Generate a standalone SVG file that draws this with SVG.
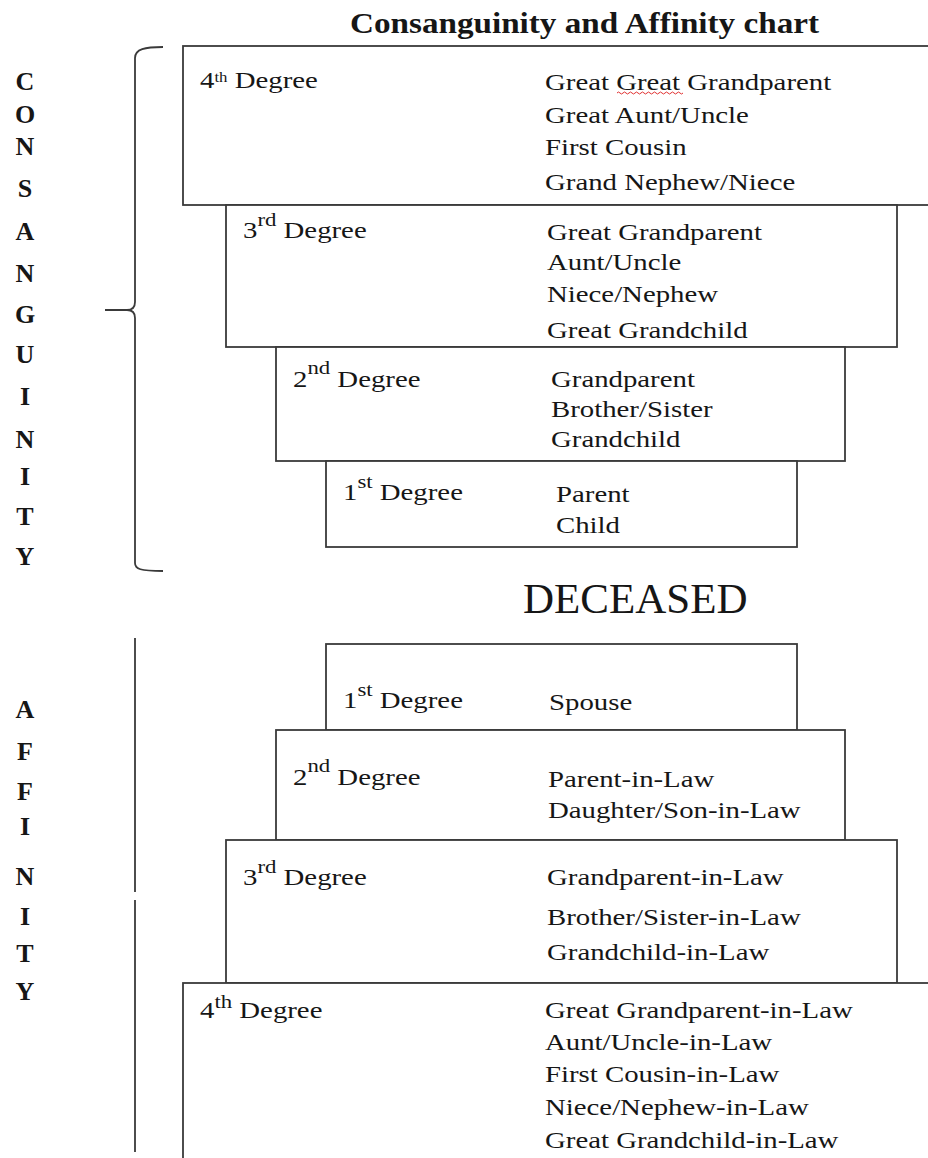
<svg xmlns="http://www.w3.org/2000/svg" width="928" height="1158" viewBox="0 0 928 1158">
<style>
.box{fill:#fff;stroke:#3a3a3a;stroke-width:1.8}
.t{font-family:"Liberation Serif","Times New Roman",serif;font-size:24px;fill:#161616}
.sup{font-size:19px}
.sup4{font-size:14px}
.side{font-family:"Liberation Serif","Times New Roman",serif;font-size:26px;font-weight:bold;fill:#161616;text-anchor:middle}
.title{font-family:"Liberation Serif","Times New Roman",serif;font-size:30px;font-weight:bold;fill:#161616}
.big{font-family:"Liberation Serif","Times New Roman",serif;font-size:43px;fill:#161616}
.br{fill:none;stroke:#3a3a3a;stroke-width:1.8}
</style>
<rect width="928" height="1158" fill="#fff"/>
<text class="title" x="350" y="33" textLength="469" lengthAdjust="spacingAndGlyphs">Consanguinity and Affinity chart</text>

<g id="connectors">
<path class="br" d="M163,47 C145,47 135,49 135,58 L135,302 C135,307 132,310 127,310 L105,310 M127,310 C132,310 135,313 135,318 L135,563 C135,569 140,571 163,571"/>
<path class="br" d="M135,638 L135,892 M135,900 L135,1152"/>
</g>

<g id="side-consanguinity">
<text class="side" x="25" y="90">C</text>
<text class="side" x="25" y="123">O</text>
<text class="side" x="25" y="155">N</text>
<text class="side" x="25" y="197">S</text>
<text class="side" x="25" y="240">A</text>
<text class="side" x="25" y="282">N</text>
<text class="side" x="25" y="323">G</text>
<text class="side" x="25" y="363">U</text>
<text class="side" x="25" y="405">I</text>
<text class="side" x="25" y="448">N</text>
<text class="side" x="25" y="485">I</text>
<text class="side" x="25" y="525">T</text>
<text class="side" x="25" y="565">Y</text>
</g>

<g id="side-affinity">
<text class="side" x="25" y="718">A</text>
<text class="side" x="25" y="760">F</text>
<text class="side" x="25" y="800">F</text>
<text class="side" x="25" y="835">I</text>
<text class="side" x="25" y="885">N</text>
<text class="side" x="25" y="925">I</text>
<text class="side" x="25" y="962">T</text>
<text class="side" x="25" y="1000">Y</text>
</g>

<g id="c4">
<rect class="box" x="183" y="46" width="760" height="159"/>
<text class="t" transform="translate(200,88) scale(1.2,1)">4<tspan class="sup4" dy="-6">th</tspan><tspan dy="6"> Degree</tspan></text>
<text class="t" transform="translate(545,90) scale(1.2,1)">Great Great Grandparent</text>
<path d="M617,93 q1.5,-2 3,0 t3,0 t3,0 t3,0 t3,0 t3,0 t3,0 t3,0 t3,0 t3,0 t3,0 t3,0 t3,0 t3,0 t3,0 t3,0 t3,0 t3,0 t3,0 t3,0 t3,0 t3,0" fill="none" stroke="#e03030" stroke-width="1"/>
<text class="t" transform="translate(545,123) scale(1.2,1)">Great Aunt/Uncle</text>
<text class="t" transform="translate(545,155) scale(1.2,1)">First Cousin</text>
<text class="t" transform="translate(545,190) scale(1.2,1)">Grand Nephew/Niece</text>
</g>

<g id="c3">
<rect class="box" x="226" y="205" width="671" height="142"/>
<text class="t" transform="translate(243,238) scale(1.2,1)">3<tspan class="sup" dy="-12">rd</tspan><tspan dy="12"> Degree</tspan></text>
<text class="t" transform="translate(547,240) scale(1.2,1)">Great Grandparent</text>
<text class="t" transform="translate(547,270) scale(1.2,1)">Aunt/Uncle</text>
<text class="t" transform="translate(547,302) scale(1.2,1)">Niece/Nephew</text>
<text class="t" transform="translate(547,338) scale(1.2,1)">Great Grandchild</text>
</g>

<g id="c2">
<rect class="box" x="276" y="347" width="569" height="114"/>
<text class="t" transform="translate(293,387) scale(1.2,1)">2<tspan class="sup" dy="-13">nd</tspan><tspan dy="13"> Degree</tspan></text>
<text class="t" transform="translate(551,387) scale(1.2,1)">Grandparent</text>
<text class="t" transform="translate(551,417) scale(1.2,1)">Brother/Sister</text>
<text class="t" transform="translate(551,447) scale(1.2,1)">Grandchild</text>
</g>

<g id="c1">
<rect class="box" x="326" y="461" width="471" height="86"/>
<text class="t" transform="translate(343,500) scale(1.2,1)">1<tspan class="sup" dy="-12">st</tspan><tspan dy="12"> Degree</tspan></text>
<text class="t" transform="translate(556,502) scale(1.2,1)">Parent</text>
<text class="t" transform="translate(556,533) scale(1.2,1)">Child</text>
</g>

<text class="big" x="523" y="613">DECEASED</text>

<g id="a1">
<rect class="box" x="326" y="644" width="471" height="86"/>
<text class="t" transform="translate(343,708) scale(1.2,1)">1<tspan class="sup" dy="-12">st</tspan><tspan dy="12"> Degree</tspan></text>
<text class="t" transform="translate(549,710) scale(1.2,1)">Spouse</text>
</g>

<g id="a2">
<rect class="box" x="276" y="730" width="569" height="110"/>
<text class="t" transform="translate(293,785) scale(1.2,1)">2<tspan class="sup" dy="-13">nd</tspan><tspan dy="13"> Degree</tspan></text>
<text class="t" transform="translate(548,787) scale(1.2,1)">Parent-in-Law</text>
<text class="t" transform="translate(548,818) scale(1.2,1)">Daughter/Son-in-Law</text>
</g>

<g id="a3">
<rect class="box" x="226" y="840" width="671" height="143"/>
<text class="t" transform="translate(243,885) scale(1.2,1)">3<tspan class="sup" dy="-12">rd</tspan><tspan dy="12"> Degree</tspan></text>
<text class="t" transform="translate(547,885) scale(1.2,1)">Grandparent-in-Law</text>
<text class="t" transform="translate(547,925) scale(1.2,1)">Brother/Sister-in-Law</text>
<text class="t" transform="translate(547,960) scale(1.2,1)">Grandchild-in-Law</text>
</g>

<g id="a4">
<rect class="box" x="183" y="983" width="760" height="200"/>
<text class="t" transform="translate(200,1018) scale(1.2,1)">4<tspan class="sup" dy="-10">th</tspan><tspan dy="10"> Degree</tspan></text>
<text class="t" transform="translate(545,1018) scale(1.2,1)">Great Grandparent-in-Law</text>
<text class="t" transform="translate(545,1050) scale(1.2,1)">Aunt/Uncle-in-Law</text>
<text class="t" transform="translate(545,1082) scale(1.2,1)">First Cousin-in-Law</text>
<text class="t" transform="translate(545,1115) scale(1.2,1)">Niece/Nephew-in-Law</text>
<text class="t" transform="translate(545,1148) scale(1.2,1)">Great Grandchild-in-Law</text>
</g>
</svg>
